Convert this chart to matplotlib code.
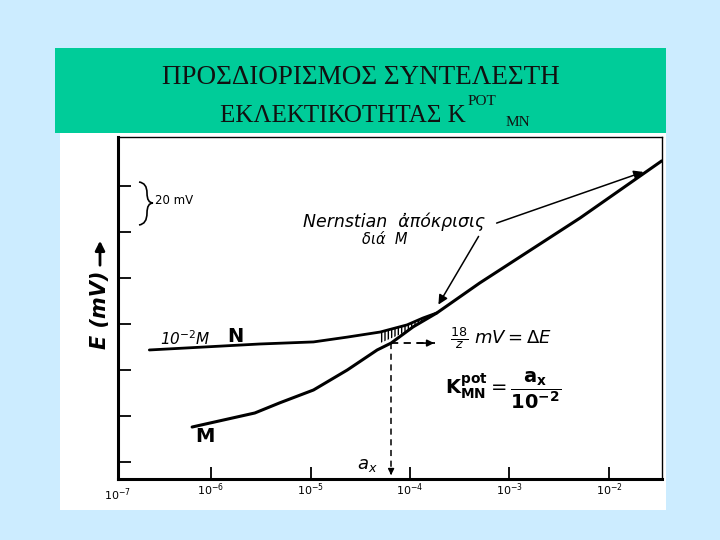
import numpy as np
import matplotlib.pyplot as plt
from matplotlib.patches import Rectangle, PathPatch
from matplotlib.path import Path

# curve M (primary ion): log10(activity) and potential E in mV
m_logx = [-6.19, -5.56, -5.31, -4.97, -4.63, -4.33, -4.19, -3.97, -3.73, -3.30, -2.29, -1.47]
m_E = [15.2, 21.3, 25.7, 31.3, 40.0, 48.7, 51.7, 58.7, 64.8, 77.8, 106.1, 130.9]

# curve N (interfering ion, constant 10^-2 M)
n_logx = [-6.62, -5.51, -4.97, -4.63, -4.30, -4.03, -3.87, -3.73]
n_E = [48.7, 51.3, 52.2, 54.3, 56.5, 59.6, 62.6, 64.8]

# intersection point a_x and the delta E arrow
ax_logx = -4.19
ax_E = 51.7
dE_end = -3.75
shade_from = -4.47

xtick_pow = [-7, -6, -5, -4, -3, -2]
ytick_E = [0, 20, 40, 60, 80, 100, 120]
xlim_log = (-6.935, -1.467)
ylim_E = (-7.4, 141.3)

W, H = 720, 540
def fx(px):
    return px / W
def fy(py):
    return 1 - py / H

fig = plt.figure(figsize=(7.2, 5.4), dpi=100)
fig.patch.set_facecolor('#CCECFF')

# white scan panel and green title band
fig.add_artist(Rectangle((fx(60), fy(510)), 606 / W, 377 / H, transform=fig.transFigure,
                         facecolor='white', edgecolor='none', zorder=-2))
fig.add_artist(Rectangle((fx(55), fy(133)), 611 / W, 85 / H, transform=fig.transFigure,
                         facecolor='#00CC99', edgecolor='none', zorder=-1))

serif = 'Liberation Serif'
fig.text(fx(361), fy(77), "ΠΡΟΣΔΙΟΡΙΣΜΟΣ ΣΥΝΤΕΛΕΣΤΗ", family=serif, fontsize=19.5,
         ha='center', va='center', color='#111111')
fig.text(fx(466), fy(122), "ΕΚΛΕΚΤΙΚΟΤΗΤΑΣ K", family=serif, fontsize=18,
         ha='right', va='baseline', color='#111111')
fig.text(fx(468), fy(105), "POT", family=serif, fontsize=11, ha='left', va='baseline', color='#111111')
fig.text(fx(506), fy(126), "MN", family=serif, fontsize=11, ha='left', va='baseline', color='#111111')

ax = fig.add_axes([fx(118), fy(479), 544 / W, 342 / H])
ax.set_facecolor('none')
ax.set_xscale('log')
ax.set_xlim(10 ** xlim_log[0], 10 ** xlim_log[1])
ax.set_ylim(*ylim_E)

mx = 10 ** np.array(m_logx)
nx = 10 ** np.array(n_logx)
ax.plot(mx, m_E, color='black', lw=2.2, solid_capstyle='round')
ax.plot(nx, n_E, color='black', lw=2.0, solid_capstyle='round')

# hatched region between N and M near the crossing
sel = np.array(n_logx) >= shade_from
sx = np.array(n_logx)[sel]
lower = np.maximum(np.interp(sx, m_logx, m_E), ax_E)
ax.fill_between(10 ** sx, lower, np.array(n_E)[sel], facecolor='none',
                edgecolor='black', hatch='|||||', lw=0)

# dashed guides
ax.plot([10 ** ax_logx, 10 ** ax_logx], [ax_E, ylim_E[0] + 2], color='black', lw=1.1, ls=(0, (4, 3)))
ax.annotate('', xy=(10 ** ax_logx, ylim_E[0] + 0.5), xytext=(10 ** ax_logx, ylim_E[0] + 4),
            arrowprops=dict(arrowstyle='-|>', color='black', lw=1, mutation_scale=9))
ax.plot([10 ** ax_logx, 10 ** dE_end], [ax_E, ax_E], color='black', lw=1.3, ls=(0, (4, 3)))
ax.annotate('', xy=(10 ** (dE_end + 0.02), ax_E), xytext=(10 ** (dE_end - 0.2), ax_E),
            arrowprops=dict(arrowstyle='-|>', color='black', lw=1.2, mutation_scale=10))

# axes styling
for s in ['left', 'bottom']:
    ax.spines[s].set_linewidth(2.2)
for s in ['top', 'right']:
    ax.spines[s].set_linewidth(1.0)
ax.set_xticks([10 ** p for p in xtick_pow[1:]])
ax.set_xticklabels([f"10$^{{{p}}}$" for p in xtick_pow[1:]], fontsize=8)
ax.text(0, -0.022, f"10$^{{{xtick_pow[0]}}}$", transform=ax.transAxes, ha='center', va='top', fontsize=8)
ax.set_yticks(ytick_E)
ax.set_yticklabels([])
ax.tick_params(axis='both', which='major', direction='in', length=9, width=1.3, pad=2)
ax.tick_params(axis='x', which='minor', length=0)
ax.tick_params(axis='y', which='major', length=9)

# y label with up arrow
fig.text(fx(100), fy(310), "E (mV)", rotation=90, fontsize=15, fontweight='bold',
         ha='center', va='center', style='italic')
ax.annotate('', xy=(fx(100), fy(238)), xytext=(fx(100), fy(268)), xycoords='figure fraction',
            arrowprops=dict(arrowstyle='-|>', color='black', lw=2, mutation_scale=14))

# 20 mV scale brace drawn as a path in figure pixels
bx = [139, 147, 147, 147, 153, 147, 147, 147, 139]
by = [182, 183, 193, 203, 203, 203, 213, 224, 225]
codes = [Path.MOVETO, Path.CURVE3, Path.CURVE3, Path.CURVE3, Path.CURVE3,
         Path.CURVE3, Path.CURVE3, Path.CURVE3, Path.CURVE3]
brace = Path([(fx(a), fy(b)) for a, b in zip(bx, by)], codes)
fig.add_artist(PathPatch(brace, transform=fig.transFigure, facecolor='none', edgecolor='black', lw=1.2))
fig.text(fx(155), fy(200), "20 mV", fontsize=8.5, ha='left', va='center')

# curve labels
fig.text(fx(160), fy(339), "10$^{-2}$M", fontsize=11, style='italic', ha='left', va='center')
fig.text(fx(227), fy(337), "N", fontsize=14, fontweight='bold', ha='left', va='center')
fig.text(fx(195), fy(437), "M", fontsize=14, fontweight='bold', ha='left', va='center')
fig.text(fx(367), fy(465), "$a_x$", fontsize=13, ha='center', va='center')

# Nernstian annotation
fig.text(fx(303), fy(222), "Nernstian  ἀπόκρισις", fontsize=12.5, style='italic', ha='left', va='center')
fig.text(fx(362), fy(239), "διά  M", fontsize=10.5, style='italic', ha='left', va='center')
ax.annotate('', xy=(fx(646), fy(171)), xytext=(fx(494), fy(224)), xycoords='figure fraction',
            arrowprops=dict(arrowstyle='-|>', color='black', lw=1.1, mutation_scale=14))
ax.annotate('', xy=(fx(437), fy(307)), xytext=(fx(480), fy(234)), xycoords='figure fraction',
            arrowprops=dict(arrowstyle='-|>', color='black', lw=1.1, mutation_scale=14))

fig.text(fx(450), fy(338), r"$\frac{18}{z}\ mV=\Delta E$", fontsize=13, ha='left', va='center')
fig.text(fx(445), fy(390), r"$\mathbf{K}^{\mathbf{pot}}_{\mathbf{MN}}=\dfrac{\mathbf{a_x}}{\mathbf{10^{-2}}}$",
         fontsize=14, ha='left', va='center')

fig.savefig('out.png', dpi=100, facecolor=fig.get_facecolor())
